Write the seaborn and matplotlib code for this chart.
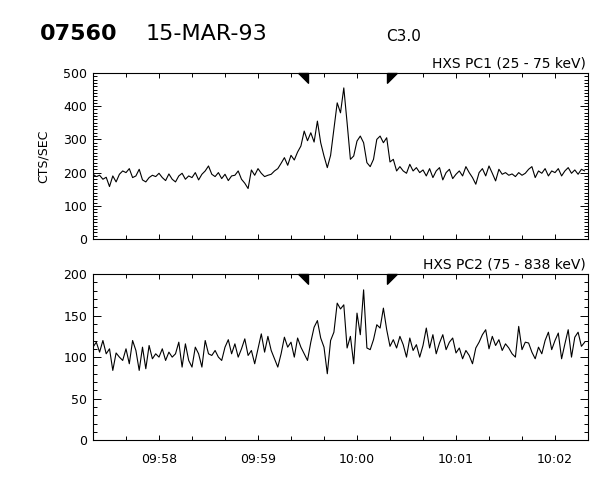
import numpy as np
import pandas as pd
import matplotlib
matplotlib.use("Agg")
import matplotlib.pyplot as plt
import matplotlib.dates as mdates
import seaborn as sns

# 2 s samples starting 09:57:20
start_time = "1993-03-15 09:57:20"
end_time = "1993-03-15 10:02:20"

pc1_counts = [
    195, 188, 192, 180, 186, 158, 190, 172, 195, 205,
    200, 212, 185, 190, 210, 178, 172, 185, 192, 188,
    198, 185, 176, 196, 180, 172, 190, 198, 180, 190,
    185, 200, 178, 195, 205, 220, 195, 188, 200, 182,
    195, 176, 190, 192, 205, 180, 168, 152, 208, 192,
    212, 198, 188, 192, 195, 205, 212, 228, 245, 222,
    252, 238, 262, 280, 325, 296, 320, 292, 355, 290,
    250, 215, 252, 330, 410, 380, 455, 350, 240, 250,
    295, 310, 290, 230, 218, 240, 300, 310, 290, 305,
    232, 240, 205, 218, 205, 198, 225, 205, 215, 200,
    208, 190, 212, 185, 205, 215, 178, 200, 210, 182,
    195, 205, 190, 218, 200, 185, 165, 200, 212, 190,
    220, 198, 175, 210, 195, 200, 192, 196, 188, 200,
    192, 198, 210, 218, 185, 205, 198, 212, 190, 205,
    200, 212, 190, 205, 215, 198, 208, 195, 210, 205,
]

pc2_counts = [
    112, 118, 106, 120, 104, 110, 84, 105, 100, 96,
    110, 92, 120, 108, 84, 112, 86, 114, 98, 104,
    100, 110, 96, 106, 100, 104, 118, 88, 116, 96,
    88, 112, 104, 88, 120, 104, 102, 108, 100, 96,
    112, 121, 104, 116, 100, 110, 122, 102, 108, 92,
    110, 128, 106, 125, 108, 98, 88, 104, 124, 112,
    118, 100, 123, 112, 104, 96, 118, 136, 144, 123,
    112, 80, 120, 130, 165, 158, 163, 111, 125, 92,
    153, 127, 181, 111, 109, 121, 139, 135, 159, 133,
    113, 121, 111, 125, 115, 100, 123, 108, 115, 100,
    114, 135, 111, 127, 104, 117, 127, 109, 118, 123,
    105, 111, 98, 108, 102, 92, 111, 118, 127, 133,
    110, 125, 114, 121, 108, 116, 111, 104, 100, 137,
    109, 118, 117, 106, 98, 112, 104, 120, 130, 109,
    120, 129, 98, 116, 133, 100, 124, 130, 113, 118,
]

flare_marks = ["1993-03-15 09:59:30", "1993-03-15 10:00:18"]

times = pd.date_range(start_time, periods=len(pc1_counts), freq="2s")
df = pd.DataFrame({"time": times, "pc1": pc1_counts, "pc2": pc2_counts})

sns.set_style("ticks")
plt.rcParams["font.family"] = ["DejaVu Sans"]
plt.rcParams["text.color"] = "black"
plt.rcParams["axes.labelcolor"] = "black"

fig = plt.figure(figsize=(6, 4.8), dpi=100)
ax1 = fig.add_axes([0.155, 0.502, 0.825, 0.346])
ax2 = fig.add_axes([0.155, 0.083, 0.825, 0.346])

panels = [
    (ax1, "pc1", 500, 100, "HXS PC1 (25 - 75 keV)"),
    (ax2, "pc2", 200, 50, "HXS PC2 (75 - 838 keV)"),
]
mark_left = [(-1, 0), (0, 0), (0, -1), (-1, 0)]
mark_right = [(0, 0), (1, 0), (0, -1), (0, 0)]

for ax, col, ymax, ystep, label in panels:
    sns.lineplot(data=df, x="time", y=col, ax=ax, color="black", lw=0.8)
    ax.set_xlim(pd.Timestamp(start_time), pd.Timestamp(end_time))
    ax.set_ylim(0, ymax)
    ax.set_yticks(np.arange(0, ymax + 1, ystep))
    ax.set_yticks(np.arange(0, ymax + 1, 10), minor=True)
    ax.xaxis.set_major_locator(mdates.MinuteLocator())
    ax.xaxis.set_minor_locator(mdates.SecondLocator(bysecond=[0, 20, 40]))
    ax.xaxis.set_major_formatter(mdates.DateFormatter("%H:%M"))
    ax.tick_params(axis="both", which="both", direction="in",
                   top=True, right=True, colors="black", labelsize=9)
    ax.tick_params(axis="y", which="major", length=6, width=0.7, pad=4)
    ax.tick_params(axis="y", which="minor", length=3, width=0.7)
    ax.tick_params(axis="x", which="major", length=3.5, width=0.7, pad=9)
    ax.tick_params(axis="x", which="minor", length=3, width=0.7)
    for s in ax.spines.values():
        s.set_linewidth(0.8)
        s.set_color("black")
    ax.set_xlabel("")
    ax.set_ylabel("")
    ax.text(0.995, 1.015, label, transform=ax.transAxes, ha="right",
            va="bottom", fontsize=10)
    tr = ax.get_xaxis_transform()
    ax.plot([pd.Timestamp(flare_marks[0])], [1.0], transform=tr,
            marker=mark_left, markersize=14, color="black", clip_on=False)
    ax.plot([pd.Timestamp(flare_marks[1])], [1.0], transform=tr,
            marker=mark_right, markersize=14, color="black", clip_on=False)

ax1.tick_params(axis="x", labelbottom=False)
ax1.set_ylabel("CTS/SEC", fontsize=9, labelpad=10)

fig.text(40 / 600, 1 - 40 / 480, "07560", fontsize=16, fontweight="bold",
         ha="left", va="baseline")
fig.text(146 / 600, 1 - 40 / 480, "15-MAR-93", fontsize=16,
         ha="left", va="baseline")
fig.text(386 / 600, 1 - 41 / 480, "C3.0", fontsize=11,
         ha="left", va="baseline")

fig.savefig("out.png", dpi=100, facecolor="white")
plt.close(fig)
